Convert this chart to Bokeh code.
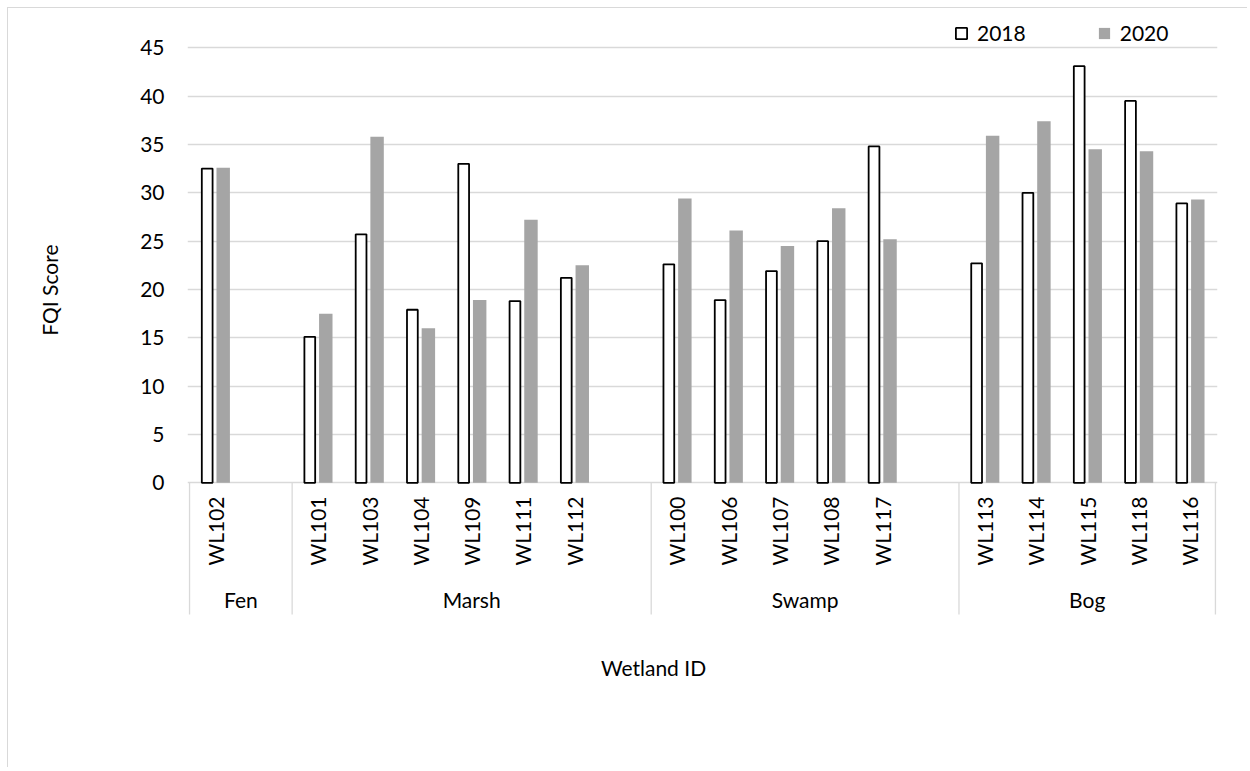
import math
from bokeh.plotting import figure
from bokeh.models import (FactorRange, Range1d, FixedTicker, Legend, LegendItem,
                          Label, Title, ColumnDataSource)
from bokeh.transform import dodge
from bokeh.core.properties import value
from bokeh.embed import file_html
from bokeh.resources import INLINE

# ---------------- data ----------------
wetland_types = ["Fen", "Marsh", "Swamp", "Bog"]
site_type = ["Fen",
             "Marsh", "Marsh", "Marsh", "Marsh", "Marsh", "Marsh",
             "Swamp", "Swamp", "Swamp", "Swamp", "Swamp",
             "Bog", "Bog", "Bog", "Bog", "Bog"]
site_ids = ["WL102",
            "WL101", "WL103", "WL104", "WL109", "WL111", "WL112",
            "WL100", "WL106", "WL107", "WL108", "WL117",
            "WL113", "WL114", "WL115", "WL118", "WL116"]
fqi_2018 = [32.5,
            15.1, 25.7, 17.9, 33.0, 18.8, 21.2,
            22.6, 18.9, 21.9, 25.0, 34.8,
            22.7, 30.0, 43.1, 39.5, 28.9]
fqi_2020 = [32.6,
            17.5, 35.8, 16.0, 18.9, 27.2, 22.5,
            29.4, 26.1, 24.5, 28.4, 25.2,
            35.9, 37.4, 34.5, 34.3, 29.3]
series_labels = ["2018", "2020"]
y_ticks = [0, 5, 10, 15, 20, 25, 30, 35, 40, 45]
x_title = "Wetland ID"
y_title = "FQI Score"

# ---------------- layout constants ----------------
ORIG = 8               # page px of canvas origin (7px margin + 1px border)
W, H = 1240, 760
FRAME_LEFT = 179
FRAME_RIGHT = 1209
Y0_PX = 474.3          # canvas y of value 0
PX_PER_UNIT = 9.667
FONT = "Lato"
FS = "21px"
GRID = "#d9d9d9"

y_start = -(H - Y0_PX) / PX_PER_UNIT
y_end = Y0_PX / PX_PER_UNIT

def px_to_val(page_y):
    return (Y0_PX + ORIG - page_y) / PX_PER_UNIT

# factors: each type group, followed by an empty slot (except last group)
factors = []
for t in wetland_types:
    ids = [s for s, g in zip(site_ids, site_type) if g == t]
    factors += [(t, s) for s in ids]
    if t != wetland_types[-1]:
        factors.append((t, " "))

x_range = FactorRange(*factors, factor_padding=0, group_padding=0,
                      subgroup_padding=0, range_padding=0.04,
                      range_padding_units="absolute")

p = figure(x_range=x_range, y_range=Range1d(y_start, y_end),
           width=W, height=H, output_backend="svg", toolbar_location=None,
           x_axis_location=None, min_border_left=FRAME_LEFT,
           min_border_right=W - FRAME_RIGHT, min_border_top=0,
           min_border_bottom=0)
p.styles = {"margin-left": "7px", "margin-top": "7px",
            "border-top": "1px solid #d9d9d9", "border-left": "1px solid #d9d9d9"}
p.outline_line_color = None
p.background_fill_color = "white"
p.border_fill_color = "white"

ticker = FixedTicker(ticks=y_ticks)
p.yaxis.ticker = ticker
p.yaxis.axis_line_color = None
p.yaxis.major_tick_line_color = None
p.yaxis.minor_tick_line_color = None
p.yaxis.major_tick_out = 0
p.yaxis.major_tick_in = 0
p.yaxis.major_label_standoff = 23
p.yaxis.major_label_text_font = FONT
p.yaxis.major_label_text_font_size = FS
p.yaxis.major_label_text_color = "black"
p.yaxis.axis_label = " "
p.yaxis.axis_label_standoff = 44
p.yaxis.axis_label_text_font_size = FS
p.ygrid.ticker = ticker
p.ygrid.grid_line_color = GRID
p.ygrid.grid_line_width = 1.3
for g in p.xgrid:
    g.visible = False

src = ColumnDataSource(dict(x=[(t, s) for t, s in zip(site_type, site_ids)],
                            site=site_ids, y18=fqi_2018, y20=fqi_2020))

r18 = p.vbar(x=dodge("x", -0.156, range=p.x_range), top="y18", width=0.21,
             source=src, fill_color="white", line_color="black", line_width=1.8)
r20 = p.vbar(x=dodge("x", 0.156, range=p.x_range), top="y20", width=0.262,
             source=src, fill_color="#a5a5a5", line_color=None)

# category (site) labels, rotated
p.text(x="x", y=px_to_val(496), text="site", source=src, angle=math.pi / 2,
       text_align="right", text_baseline="middle", text_font=value(FONT),
       text_font_size=FS, text_color="black")

# group labels
p.text(x=wetland_types, y=[px_to_val(599)] * len(wetland_types), text=wetland_types,
       text_align="center", text_baseline="middle", text_font=value(FONT),
       text_font_size=FS, text_color="black")

# group separators
bounds = []
for t in wetland_types:
    first = [s for s, g in zip(site_ids, site_type) if g == t][0]
    bounds.append((t, first, -0.5))
bounds.append((site_type[-1], site_ids[-1], 0.5))
p.segment(x0=bounds, y0=[0] * len(bounds), x1=bounds,
          y1=[px_to_val(614)] * len(bounds), line_color=GRID, line_width=1.3)

# axis titles
p.add_layout(Label(x=653 - (FRAME_LEFT + ORIG), y=H - (667 - ORIG), x_units="screen",
                   y_units="screen", text=x_title, text_align="center",
                   text_baseline="middle", text_font=FONT, text_font_size=FS,
                   text_color="black"))
p.add_layout(Title(text=y_title, align="right", offset=236, text_font=FONT,
                   text_font_size=FS, text_font_style="normal",
                   text_color="black", vertical_align="middle"), "left")

legend = Legend(items=[LegendItem(label=series_labels[0], renderers=[r18]),
                       LegendItem(label=series_labels[1], renderers=[r20])],
                orientation="horizontal", location=(767, H - 37),
                glyph_width=14, glyph_height=14, label_standoff=9, spacing=71,
                padding=0, margin=0, border_line_color=None,
                background_fill_alpha=0, label_text_font=FONT,
                label_text_font_size=FS, label_text_color="black")
p.add_layout(legend)

open("out.html", "w").write(file_html(p, INLINE))
